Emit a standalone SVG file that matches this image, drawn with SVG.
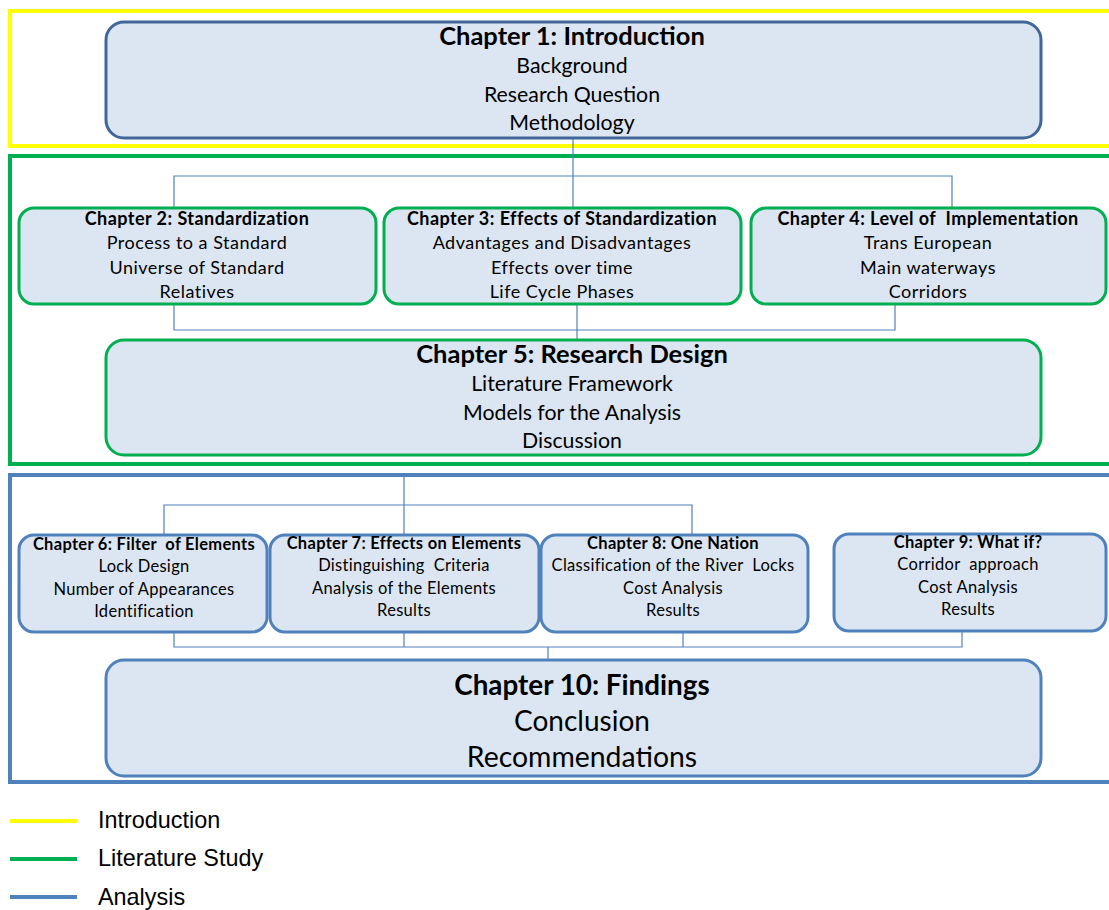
<svg xmlns="http://www.w3.org/2000/svg" width="1109" height="910" viewBox="0 0 1109 910">
<style>
  .box { fill: #DCE6F2; stroke-width: 3; }
  .intro { stroke: #41679A; }
  .lit { stroke: #00B050; }
  .ana { stroke: #4F81BD; }
  .frame { fill: none; stroke-width: 4; }
  .t { font-family: Lato, "Liberation Sans", sans-serif; fill: #000; text-anchor: middle; }
  .h1 { font-size: 25.5px; font-weight: bold; }
  .l1 { font-size: 21.3px; }
  .h2 { font-size: 18px; font-weight: bold; letter-spacing: 0.45px; }
  .l2 { font-size: 18px; letter-spacing: 0.5px; }
  .h3 { font-size: 16.5px; font-weight: bold; letter-spacing: 0.3px; }
  .l3 { font-size: 16.5px; letter-spacing: 0.3px; }
  .conn { fill: none; stroke: #4F81BD; stroke-width: 1.2; }
  .leg { font-family: "Liberation Sans", Arial, sans-serif; font-size: 23.4px; fill: #000; }
</style>

<!-- phase frames -->
<rect class="frame" x="10" y="11" width="1110" height="135" stroke="#FFFF00"/>
<rect class="frame" x="10" y="156" width="1110" height="308" stroke="#00B050"/>
<rect class="frame" x="10" y="475" width="1110" height="307" stroke="#4F81BD"/>

<!-- connectors -->
<g id="connectors">
  <path class="conn" d="M573 138 V208 M174 208 V176 H952 V208"/>
  <path class="conn" d="M174 304 V330 H895 V304 M577 304 V340"/>
  <path class="conn" d="M404 477 V535 M164 535 V505 H692 V535"/>
  <path class="conn" d="M174 632 V647 H962 V631 M404 632 V647 M683 632 V647 M548 647 V660"/>
</g>

<g id="ch1">
  <rect class="box intro" x="106" y="22" width="935" height="116" rx="18"/>
  <text class="t h1" x="572" y="45">Chapter 1: Introduction</text>
  <text class="t l1" x="572" y="73">Background</text>
  <text class="t l1" x="572" y="102">Research Question</text>
  <text class="t l1" x="572" y="130">Methodology</text>
</g>

<g id="ch2">
  <rect class="box lit" x="19" y="208" width="357" height="96" rx="15"/>
  <text class="t h2" x="197" y="225">Chapter 2: Standardization</text>
  <text class="t l2" x="197" y="249">Process to a Standard</text>
  <text class="t l2" x="197" y="274">Universe of Standard</text>
  <text class="t l2" x="197" y="298">Relatives</text>
</g>

<g id="ch3">
  <rect class="box lit" x="384" y="208" width="357" height="96" rx="15"/>
  <text class="t h2" x="562" y="225">Chapter 3: Effects of Standardization</text>
  <text class="t l2" x="562" y="249">Advantages and Disadvantages</text>
  <text class="t l2" x="562" y="274">Effects over time</text>
  <text class="t l2" x="562" y="298">Life Cycle Phases</text>
</g>

<g id="ch4">
  <rect class="box lit" x="751" y="208" width="355" height="96" rx="15"/>
  <text class="t h2" x="928" y="225" xml:space="preserve">Chapter 4: Level of  Implementation</text>
  <text class="t l2" x="928" y="249">Trans European</text>
  <text class="t l2" x="928" y="274">Main waterways</text>
  <text class="t l2" x="928" y="298">Corridors</text>
</g>

<g id="ch5">
  <rect class="box lit" x="106" y="340" width="935" height="115" rx="18"/>
  <text class="t h1" x="572" y="363">Chapter 5: Research Design</text>
  <text class="t l1" x="572" y="391">Literature Framework</text>
  <text class="t l1" x="572" y="420">Models for the Analysis</text>
  <text class="t l1" x="572" y="448">Discussion</text>
</g>

<g id="ch6">
  <rect class="box ana" x="19" y="535" width="248" height="97" rx="15"/>
  <text class="t h3" x="144" y="550" xml:space="preserve">Chapter 6: Filter  of Elements</text>
  <text class="t l3" x="144" y="572">Lock Design</text>
  <text class="t l3" x="144" y="595">Number of Appearances</text>
  <text class="t l3" x="144" y="617">Identification</text>
</g>

<g id="ch7">
  <rect class="box ana" x="270" y="535" width="269" height="97" rx="15"/>
  <text class="t h3" x="404" y="549">Chapter 7: Effects on Elements</text>
  <text class="t l3" x="404" y="571" xml:space="preserve">Distinguishing  Criteria</text>
  <text class="t l3" x="404" y="594">Analysis of the Elements</text>
  <text class="t l3" x="404" y="616">Results</text>
</g>

<g id="ch8">
  <rect class="box ana" x="541" y="535" width="267" height="97" rx="15"/>
  <text class="t h3" x="673" y="549">Chapter 8: One Nation</text>
  <text class="t l3" x="673" y="571" xml:space="preserve">Classification of the River  Locks</text>
  <text class="t l3" x="673" y="594">Cost Analysis</text>
  <text class="t l3" x="673" y="616">Results</text>
</g>

<g id="ch9">
  <rect class="box ana" x="834" y="534" width="272" height="97" rx="15"/>
  <text class="t h3" x="968" y="548">Chapter 9: What if?</text>
  <text class="t l3" x="968" y="570" xml:space="preserve">Corridor  approach</text>
  <text class="t l3" x="968" y="593">Cost Analysis</text>
  <text class="t l3" x="968" y="615">Results</text>
</g>

<g id="ch10">
  <rect class="box ana" x="106" y="660" width="935" height="116" rx="18"/>
  <text class="t" x="582" y="695" style="font-size:27.8px;font-weight:bold">Chapter 10: Findings</text>
  <text class="t" x="582" y="731" style="font-size:28px">Conclusion</text>
  <text class="t" x="582" y="767" style="font-size:28.4px">Recommendations</text>
</g>

<!-- legend -->
<g id="legend">
  <line x1="10" y1="821" x2="77" y2="821" stroke="#FFFF00" stroke-width="4"/>
  <line x1="10" y1="859" x2="77" y2="859" stroke="#00B050" stroke-width="4"/>
  <line x1="10" y1="897" x2="77" y2="897" stroke="#4F81BD" stroke-width="4"/>
  <text class="leg" x="98" y="828">Introduction</text>
  <text class="leg" x="98" y="866">Literature Study</text>
  <text class="leg" x="98" y="905">Analysis</text>
</g>
</svg>
